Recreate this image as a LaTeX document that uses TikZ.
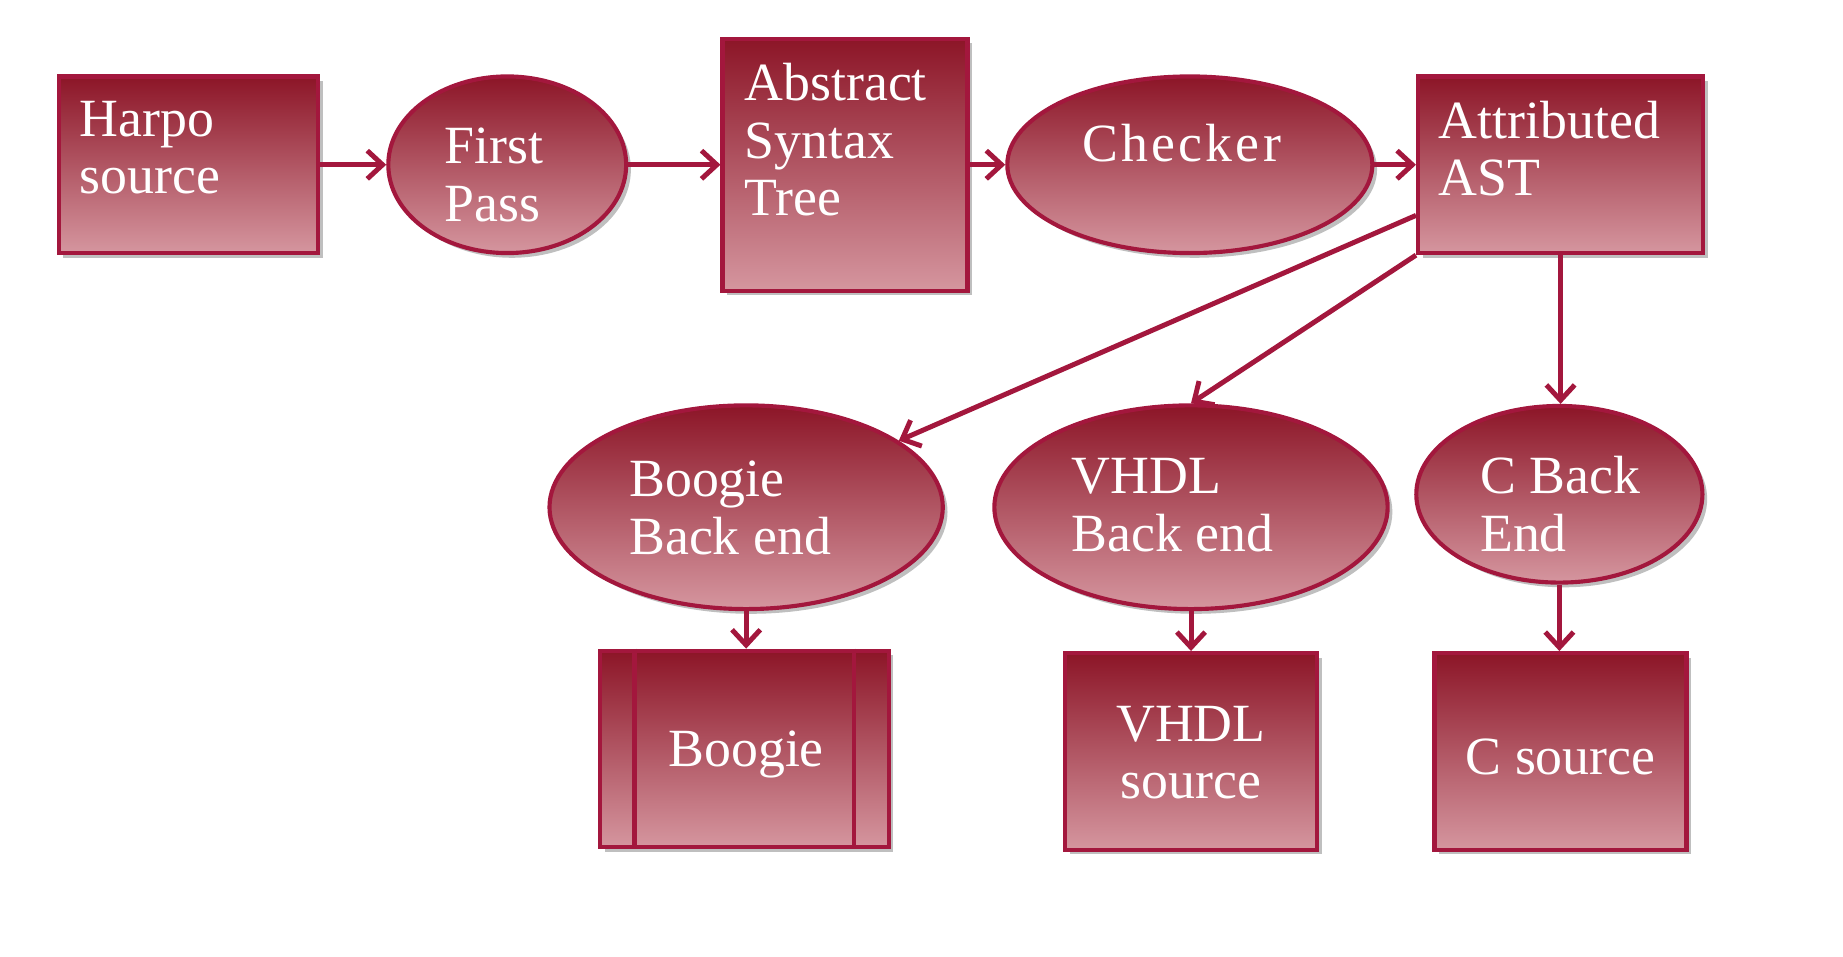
\documentclass[tikz,border=0pt]{standalone}
\usepackage{fontspec}
\setmainfont{Liberation Serif}
\usetikzlibrary{shapes.geometric,arrows.meta,shadows}
\definecolor{hdark}{HTML}{8C1527}
\definecolor{hlight}{HTML}{D5969F}
\definecolor{hedge}{HTML}{A3173D}
\tikzset{
  box/.style={rectangle, draw=hedge, line width=1pt, top color=hdark, bottom color=hlight,
    inner sep=0pt, drop shadow={shadow xshift=0.04cm, shadow yshift=-0.04cm, fill=black, opacity=0.25}},
  oval/.style={box, ellipse},
  lbl/.style={text=white, font=\fontsize{13}{13.9}\selectfont, align=left, anchor=north west, inner sep=0pt},
  clbl/.style={lbl, align=center, anchor=center},
  conn/.style={draw=hedge, line width=1.2pt, -{Straight Barb[length=1.3mm, width=2.4mm, line width=1.2pt]}}
}
\begin{document}
\begin{tikzpicture}[x=0.01cm, y=-0.01cm]
\useasboundingbox (0,0) rectangle (1566,813);
% shapes
\node[box, minimum width=2.2cm, minimum height=1.5cm] (harpo) at (160,140) {};
\node[oval, minimum width=2.02cm, minimum height=1.5cm] (fp) at (431,140) {};
\node[box, minimum width=2.08cm, minimum height=2.14cm] (ast) at (718,140) {};
\node[oval, minimum width=3.1cm, minimum height=1.5cm] (chk) at (1011,140) {};
\node[box, minimum width=2.42cm, minimum height=1.5cm] (attr) at (1326,140) {};
\node[oval, minimum width=3.34cm, minimum height=1.73cm] (bbe) at (634,431) {};
\node[oval, minimum width=3.34cm, minimum height=1.73cm] (vbe) at (1012,431) {};
\node[oval, minimum width=2.43cm, minimum height=1.5cm] (cbe) at (1325,420) {};
\node[box, minimum width=2.45cm, minimum height=1.67cm] (boog) at (632.5,636.5) {};
\node[box, minimum width=2.14cm, minimum height=1.67cm] (vsrc) at (1012,638.5) {};
\node[box, minimum width=2.14cm, minimum height=1.67cm] (csrc) at (1326,638.5) {};
\draw[hedge, line width=1pt] ([xshift=0.31cm]boog.north west) -- ([xshift=0.31cm]boog.south west);
\draw[hedge, line width=1pt] ([xshift=-0.31cm]boog.north east) -- ([xshift=-0.31cm]boog.south east);
% texts
\node[lbl] (tharpo) at (67,85) {Harpo\\source};
\node[lbl] (tfp) at (377,108) {First\\Pass};
\node[lbl] (tast) at (632,53) {Abstract\\Syntax\\Tree};
\node[lbl] (tchk) at (919,105) {\addfontfeature{LetterSpace=6}Checker};
\node[lbl] (tattr) at (1222,85) {Attributed\\AST};
\node[lbl] (tbbe) at (534,391) {Boogie\\Back end};
\node[lbl] (tvbe) at (910,389) {VHDL\\Back end};
\node[lbl] (tcbe) at (1257,387) {C Back\\End};
\node[clbl] (tboog) at (634,641) {Boogie};
\node[lbl, align=center, anchor=north] (tvsrc) at (1012,599) {VHDL\\source};
\node[clbl] (tcsrc) at (1326,643) {C source};
% connectors
\draw[conn] (harpo.east) -- (fp.west);
\draw[conn] (fp.east) -- (ast.west);
\draw[conn] (ast.east) -- (chk.west);
\draw[conn] (chk.east) -- (attr.west);
\draw[conn] ([yshift=-0.43cm]attr.west) -- (bbe);
\draw[conn] (attr.south west) -- (vbe.north);
\draw[conn] (attr.south) -- (attr.south |- cbe.north);
\draw[conn] (bbe.south) -- (bbe.south |- boog.north);
\draw[conn] (vbe.south) -- (vsrc.north);
\draw[conn] (cbe.south) -- (cbe.south |- csrc.north);
\end{tikzpicture}
\end{document}
